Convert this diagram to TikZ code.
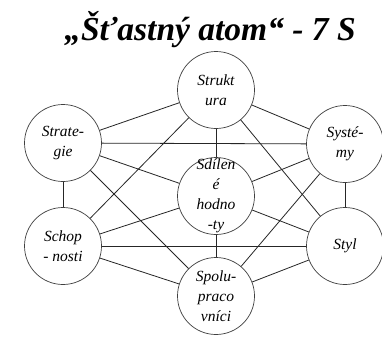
\documentclass[tikz,border=0pt]{standalone}
\usepackage{fontspec}
\setmainfont{Liberation Serif}
\begin{document}
\begin{tikzpicture}[x=1pt,y=1pt,
  ring/.style={circle, draw=black!75, line width=0.7pt, minimum size=77pt, inner sep=0pt, fill=white},
  lbl/.style={align=center, inner sep=0pt, font=\fontsize{15.5}{20}\selectfont\itshape},
  link/.style={draw=black!85, line width=0.8pt},
  heading/.style={anchor=base, inner sep=0pt, font=\fontsize{33.5}{36}\selectfont\bfseries\itshape}]
\useasboundingbox (0,0) rectangle (382,-338);
\fill[white] (0,0) rectangle (382,-338);

% heading
\node[heading] (title) at (210,-40.5) {„Šťastný atom“ - 7 S};

% the seven S
\node[ring] (str) at (216,-90)  {};
\node[ring] (sdh) at (216,-196) {};
\node[ring] (spo) at (216,-296) {};
\node[ring] (stg) at (63,-143)  {};
\node[ring] (sch) at (63,-246)  {};
\node[ring] (sys) at (345,-144) {};
\node[ring] (sty) at (345,-246) {};

% connectors
\draw[link] (stg) -- (sys);
\draw[link] (sch) -- (sty);
\draw[link] (str) -- (stg);
\draw[link] (str) -- (sys);
\draw[link] (str) -- (sdh);
\draw[link] (str) -- (sch);
\draw[link] (str) -- (sty);
\draw[link] (stg) -- (sch);
\draw[link] (stg) -- (sdh);
\draw[link] (stg) -- (spo);
\draw[link] (sch) -- (sdh);
\draw[link] (sch) -- (spo);
\draw[link] (sys) -- (sty);
\draw[link] (sys) -- (sdh);
\draw[link] (sys) -- (spo);
\draw[link] (sty) -- (sdh);
\draw[link] (sty) -- (spo);
\draw[link] (sdh) -- (spo);

% labels inside the circles
\node[lbl] (str-t) at (str) {Strukt\\ura};
\node[lbl] (sdh-t) at (sdh) {Sdílen\\é\\hodno\\-ty};
\node[lbl] (spo-t) at (spo) {Spolu-\\praco\\vníci};
\node[lbl] (stg-t) at (stg) {Strate-\\gie};
\node[lbl] (sch-t) at (sch) {Schop\\- nosti};
\node[lbl] (sys-t) at (sys) {Systé-\\my};
\node[lbl] (sty-t) at (sty) {Styl};
\end{tikzpicture}
\end{document}
